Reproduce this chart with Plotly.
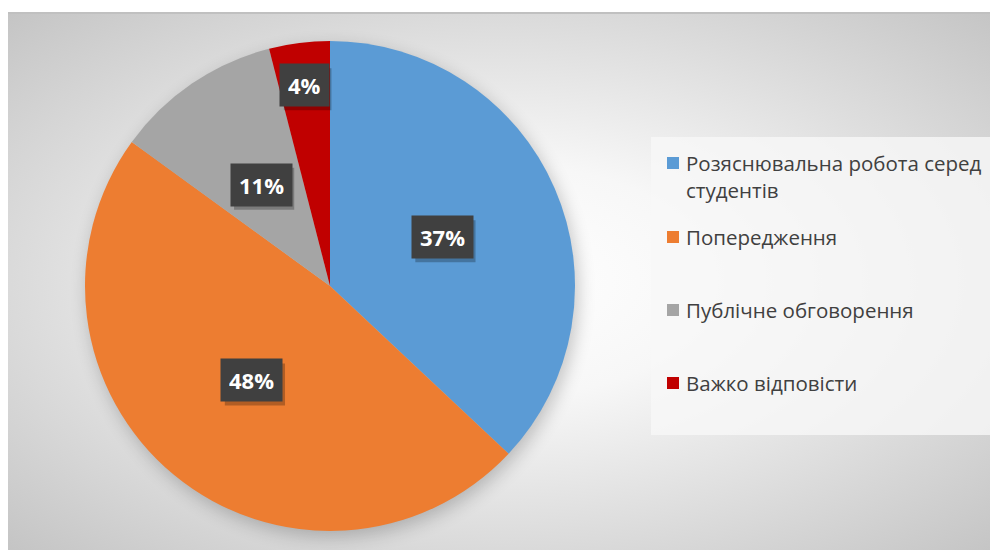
import math
import base64
import plotly.graph_objects as go

# ---- data ----
categories = ["Розяснювальна робота серед студентів", "Попередження",
              "Публічне обговорення", "Важко відповісти"]
legend_lines = [["Розяснювальна робота серед", "студентів"], ["Попередження"],
                ["Публічне обговорення"], ["Важко відповісти"]]
values = [37, 48, 11, 4]
colors = ["#5B9BD5", "#ED7D31", "#A5A5A5", "#C00000"]

# page body has an 8px margin; work in screen pixels and convert
OFF = 8
W, H = 990, 545
CX, CY, R = 330, 286, 245  # screen-pixel geometry of the pie

def px(x):
    return (x - OFF) / W

def py(y):
    return 1 - (y - OFF) / H

# background: radial gradient + soft pie shadow (chart area from screen x=8,y=12 to 998,550)
BW, BH = 990, 538
svg = f'''<svg xmlns="http://www.w3.org/2000/svg" width="{BW}" height="{BH}" viewBox="0 0 {BW} {BH}" preserveAspectRatio="none">
<defs>
<radialGradient id="g" cx="0.5" cy="0.5" r="0.72" gradientUnits="objectBoundingBox">
<stop offset="0" stop-color="#ffffff"/>
<stop offset="0.3" stop-color="#f7f7f7"/>
<stop offset="1" stop-color="#c3c3c3"/>
</radialGradient>
<filter id="b" x="-20%" y="-20%" width="140%" height="140%"><feGaussianBlur stdDeviation="9"/></filter>
</defs>
<rect x="0" y="0" width="{BW}" height="{BH}" fill="url(#g)"/>
<rect x="0" y="0" width="{BW}" height="2" fill="#c0c0c0"/>
<circle cx="{CX-8+3}" cy="{CY-12+6}" r="{R}" fill="#000" opacity="0.22" filter="url(#b)"/>
</svg>'''
src = "data:image/svg+xml;base64," + base64.b64encode(svg.encode()).decode()

fig = go.Figure(go.Pie(
    labels=categories, values=values, sort=False, direction="clockwise", rotation=0,
    marker=dict(colors=colors, line=dict(width=0)),
    textinfo="none", hoverinfo="label+percent", showlegend=False,
    domain=dict(x=[px(CX - R), px(CX + R)], y=[py(CY + R), py(CY - R)]),
))

# data labels
total = sum(values)
label_r = [0.5, 0.5, 0.5, 0.826]
annotations = []
shapes = []
cum = 0
for i, v in enumerate(values):
    mid = (cum + v / 2) / total * 2 * math.pi
    cum += v
    lx = CX + R * label_r[i] * math.sin(mid)
    ly = CY - R * label_r[i] * math.cos(mid)
    pct = f"{round(v / total * 100)}"
    txt = f"<b>{pct}%</b>"
    # soft drop shadow box behind the label
    bw = 12.6 * len(pct) + 19 + 16
    shapes.append(dict(type="rect", xref="paper", yref="paper",
                       x0=px(lx - bw / 2 + 3), x1=px(lx + bw / 2 + 3),
                       y0=py(ly + 21 + 4), y1=py(ly - 21 + 4),
                       fillcolor="rgba(0,0,0,0.25)", line=dict(width=0), layer="above"))
    annotations.append(dict(x=px(lx), y=py(ly), xref="paper", yref="paper", text=txt,
                            xanchor="center", yanchor="middle",
                            showarrow=False, font=dict(family="Open Sans", size=22, color="white"),
                            bgcolor="#404040", borderpad=8, height=26))

# legend (drawn manually)
shapes.append(dict(type="rect", xref="paper", yref="paper", x0=px(651), x1=px(993), y0=py(435), y1=py(137),
                   fillcolor="rgba(248,248,248,0.8)", line=dict(width=0), layer="above"))
item_y = [163, 237, 310, 383]
line_gap = 27
for i, lines in enumerate(legend_lines):
    y0 = item_y[i]
    shapes.append(dict(type="rect", xref="paper", yref="paper", x0=px(667), x1=px(679),
                       y0=py(y0 + 6), y1=py(y0 - 6), fillcolor=colors[i], line=dict(width=0), layer="above"))
    for j, ln in enumerate(lines):
        annotations.append(dict(x=px(684), y=py(y0 + j * line_gap), xref="paper", yref="paper",
                                text=ln, showarrow=False, xanchor="left", yanchor="middle",
                                font=dict(family="Open Sans", size=20.5, color="#404040")))

fig.update_layout(
    width=W, height=H, margin=dict(l=0, r=0, t=0, b=0),
    paper_bgcolor="white", plot_bgcolor="white",
    images=[dict(source=src, xref="paper", yref="paper", x=px(8), y=py(12),
                 sizex=BW / W, sizey=BH / H, sizing="stretch", layer="below",
                 xanchor="left", yanchor="top")],
    shapes=shapes, annotations=annotations,
)
fig.write_html("out.html")
